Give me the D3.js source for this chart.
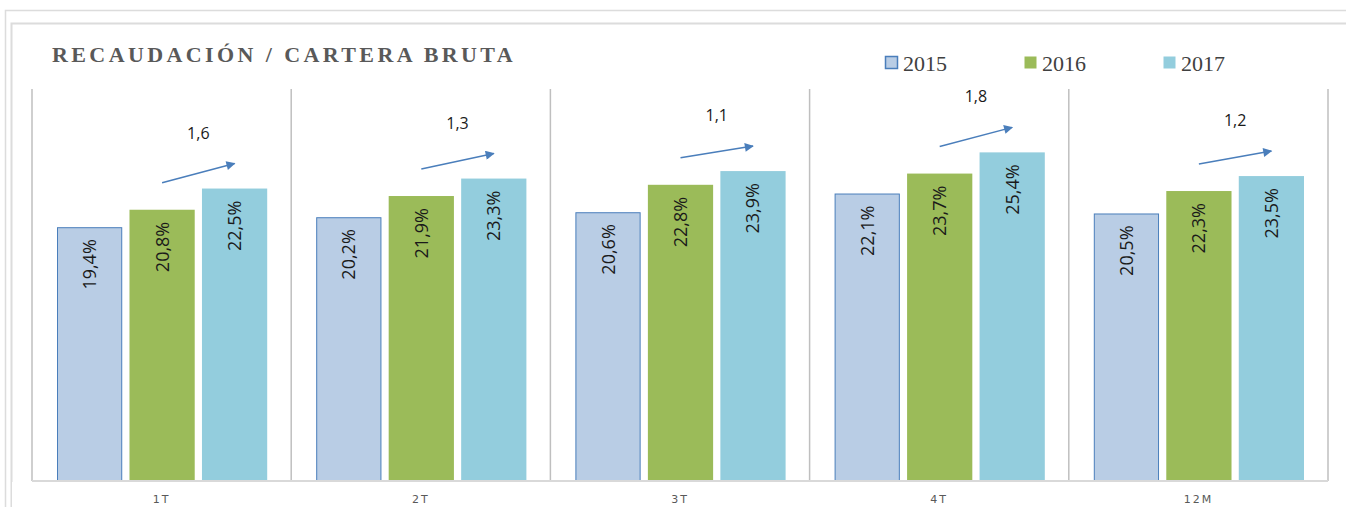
<!DOCTYPE html>
<html>
<head>
<meta charset="utf-8">
<script src="https://cdn.jsdelivr.net/npm/d3@7"></script>
<style>
  body { margin: 0; background: #fff; }
</style>
</head>
<body>
<svg id="viz"></svg>
<script>
const categories = ['1T', '2T', '3T', '4T', '12M'];
const years = ['2015', '2016', '2017'];
const values2015 = [19.4, 20.2, 20.6, 22.1, 20.5];
const values2016 = [20.8, 21.9, 22.8, 23.7, 22.3];
const values2017 = [22.5, 23.3, 23.9, 25.4, 23.5];
const deltas = ['1,6', '1,3', '1,1', '1,8', '1,2'];

const colors = { '2015': '#b9cde5', '2016': '#9bbb59', '2017': '#93cddd' };
const width = 1346, height = 507;

const svg = d3.select('#viz').attr('width', width).attr('height', height);

// frames
svg.append('path')
  .attr('d', 'M5.5,507 V10.5 H1346')
  .attr('fill', 'none').attr('stroke', '#dcdcdc').attr('stroke-width', 1.5);
svg.append('path')
  .attr('d', 'M11.5,507 V23.5 H1346')
  .attr('fill', 'none').attr('stroke', '#dcdcdc').attr('stroke-width', 2);

const rows = categories.map((c, i) => ({
  cat: c,
  vals: [values2015[i], values2016[i], values2017[i]],
  delta: deltas[i]
}));

const x0 = d3.scaleBand().domain(categories).range([32, 1328]);
const x1 = d3.scaleBand().domain(years).range([25, x0.bandwidth() - 24]).paddingInner(0.1);
const y = d3.scaleLinear().domain([-0.95, 30]).range([481, 95]);

// separators
svg.append('g').selectAll('line')
  .data(categories.concat(['end']))
  .join('line')
  .attr('x1', (d, i) => 32 + i * x0.step())
  .attr('x2', (d, i) => 32 + i * x0.step())
  .attr('y1', 89).attr('y2', 481)
  .attr('stroke', '#bfbfbf').attr('stroke-width', 1.5);

const groups = svg.append('g').selectAll('g')
  .data(rows)
  .join('g')
  .attr('transform', d => 'translate(' + x0(d.cat) + ',0)');

groups.selectAll('rect')
  .data(d => d.vals.map((v, j) => ({ year: years[j], v: v })))
  .join('rect')
  .attr('x', d => x1(d.year) + (d.year === '2015' ? 0.5 : 0))
  .attr('y', d => y(d.v) + (d.year === '2015' ? 0.5 : 0))
  .attr('width', d => x1.bandwidth() - (d.year === '2015' ? 1 : 0))
  .attr('height', d => y(0) - y(d.v) + 12)
  .attr('fill', d => colors[d.year])
  .attr('stroke', d => d.year === '2015' ? '#4a7ebb' : 'none')
  .attr('stroke-width', 1);

// cover bar overflow below axis
svg.append('rect').attr('x', 12).attr('y', 482).attr('width', 1334).attr('height', 25).attr('fill', '#fff');

groups.selectAll('text.val')
  .data(d => d.vals.map((v, j) => ({ year: years[j], v: v })))
  .join('text')
  .attr('class', 'val')
  .attr('transform', d => 'translate(' + (x1(d.year) + x1.bandwidth() / 2) + ',' + (y(d.v) + 12) + ') rotate(-90)')
  .attr('text-anchor', 'end')
  .attr('dy', '0.36em')
  .attr('font-family', 'Open Sans, sans-serif')
  .attr('font-size', 18)
  .attr('fill', '#1a1a1a')
  .text(d => d.v.toFixed(1).replace('.', ',') + '%');

// arrows
const defs = svg.append('defs');
defs.append('marker')
  .attr('id', 'head')
  .attr('viewBox', '0 0 10 10')
  .attr('refX', 9).attr('refY', 5)
  .attr('markerWidth', 11).attr('markerHeight', 9)
  .attr('markerUnits', 'userSpaceOnUse')
  .attr('orient', 'auto')
  .append('path').attr('d', 'M0,0 L10,5 L0,10 z').attr('fill', '#4a7ebb');

groups.append('line')
  .attr('x1', x1('2016') + x1.bandwidth() / 2)
  .attr('y1', d => y(d.vals[1]) - 27)
  .attr('x2', x1('2017') + x1.bandwidth() / 2)
  .attr('y2', d => y(d.vals[2]) - 25)
  .attr('stroke', '#4a7ebb').attr('stroke-width', 1.5)
  .attr('marker-end', 'url(#head)');

groups.append('text')
  .attr('x', (x1('2016') + x1('2017') + x1.bandwidth()) / 2)
  .attr('y', d => y(d.vals[2]) - 50)
  .attr('text-anchor', 'middle')
  .attr('font-family', 'Open Sans, sans-serif')
  .attr('font-size', 16)
  .attr('fill', '#1a1a1a')
  .text(d => d.delta);

// axis line
svg.append('line')
  .attr('x1', 32).attr('x2', 1328).attr('y1', 481).attr('y2', 481)
  .attr('stroke', '#d9d9d9').attr('stroke-width', 2);

// category labels
svg.append('g').selectAll('text')
  .data(categories)
  .join('text')
  .attr('x', d => x0(d) + x0.bandwidth() / 2)
  .attr('y', 503)
  .attr('text-anchor', 'middle')
  .attr('font-family', 'DejaVu Sans, sans-serif')
  .attr('font-size', 11)
  .attr('letter-spacing', 2)
  .attr('fill', '#595959')
  .text(d => d);

// title
svg.append('text')
  .attr('x', 52).attr('y', 62)
  .attr('font-family', 'Liberation Serif, serif')
  .attr('font-weight', 'bold')
  .attr('font-size', 22)
  .attr('letter-spacing', 3.4)
  .attr('fill', '#595959')
  .text('RECAUDACIÓN / CARTERA BRUTA');

// legend
const legend = svg.append('g').selectAll('g')
  .data(years)
  .join('g')
  .attr('transform', (d, i) => 'translate(' + (885 + i * 139) + ',56)');
legend.append('rect')
  .attr('x', 0.5).attr('y', 0.5).attr('width', 12).attr('height', 12)
  .attr('fill', d => colors[d])
  .attr('stroke', d => d === '2015' ? '#4a7ebb' : 'none')
  .attr('stroke-width', 1.5);
legend.append('text')
  .attr('x', 18).attr('y', 15)
  .attr('font-family', 'Liberation Serif, serif')
  .attr('font-size', 22)
  .attr('fill', '#404040')
  .text(d => d);
</script>
</body>
</html>
